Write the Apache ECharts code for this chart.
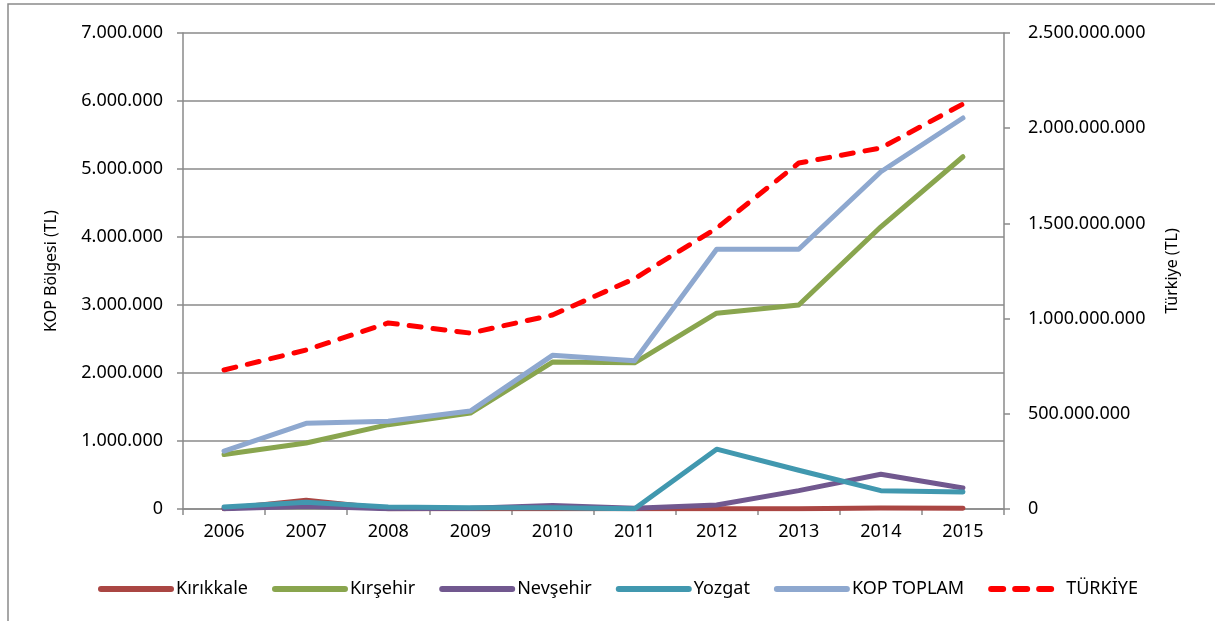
<!DOCTYPE html>
<html>
<head>
<meta charset="utf-8">
<title>KOP Bölgesi - Türkiye</title>
<script src="https://cdn.jsdelivr.net/npm/echarts@6/dist/echarts.min.js"></script>
<style>
    html, body { margin: 0; padding: 0; background: #fff; }
    #chart { width: 1215px; height: 621px; }
</style>
</head>
<body>
<div id="chart"></div>
<script>
// yıllar
var years = ['2006', '2007', '2008', '2009', '2010', '2011', '2012', '2013', '2014', '2015'];

// il değerleri (TL), sol eksen
var kirikkale = [5000, 130000, 5000, 5000, 5000, 5000, 5000, 5000, 15000, 10000];
var kirsehir = [800000, 970000, 1240000, 1410000, 2160000, 2150000, 2880000, 3000000, 4150000, 5180000];
var nevsehir = [5000, 40000, 5000, 10000, 50000, 10000, 60000, 270000, 510000, 310000];
var yozgat = [30000, 100000, 30000, 20000, 20000, 5000, 880000, 570000, 270000, 250000];
var kopToplam = [850000, 1260000, 1290000, 1440000, 2260000, 2180000, 3820000, 3820000, 4960000, 5750000];

// Türkiye (TL), sağ eksen
var turkiye = [730000000, 835000000, 977000000, 924000000, 1019000000, 1210000000, 1475000000, 1817000000, 1896000000, 2127000000];

var FONT = 'Noto Sans';
var GRAY = '#8a8a8a';

function dotted(v) {
    return String(v).replace(/\B(?=(\d{3})+(?!\d))/g, '.');
}

function lineSeries(name, data, color, axis) {
    return {
        name: name,
        type: 'line',
        data: data,
        yAxisIndex: axis || 0,
        symbol: 'none',
        lineStyle: { width: 5, color: color, join: 'round', cap: 'round' },
        itemStyle: { color: color }
    };
}

var chart = echarts.init(document.getElementById('chart'));

var tr = lineSeries('TÜRKİYE', turkiye, '#ff0000', 1);
tr.lineStyle.type = [12, 12];

var option = {
    animation: false,
    textStyle: { fontFamily: FONT, color: '#000' },
    graphic: [
        {
            type: 'polyline',
            silent: true,
            shape: { points: [[8, 621], [8, 4], [1215, 4]] },
            style: { stroke: GRAY, lineWidth: 1.5, fill: null }
        }
    ],
    grid: { left: 183, right: 211, top: 33, bottom: 112 },
    legend: {
        left: 93,
        top: 575,
        itemWidth: 70,
        itemHeight: 8,
        itemGap: 24,
        lineStyle: { width: 6, cap: 'round' },
        itemStyle: { opacity: 0 },
        textStyle: { fontFamily: FONT, fontSize: 18, color: '#000' },
        data: ['Kırıkkale', 'Kırşehir', 'Nevşehir', 'Yozgat', 'KOP TOPLAM', 'TÜRKİYE']
    },
    xAxis: {
        type: 'category',
        data: years,
        boundaryGap: true,
        axisLine: { lineStyle: { color: GRAY, width: 1.5 } },
        axisTick: { show: true, length: 6, lineStyle: { color: GRAY, width: 1.5 } },
        axisLabel: { fontFamily: FONT, fontSize: 18, color: '#000', margin: 14 }
    },
    yAxis: [
        {
            type: 'value',
            min: 0,
            max: 7000000,
            interval: 1000000,
            name: 'KOP Bölgesi (TL)',
            nameLocation: 'middle',
            nameRotate: 90,
            nameGap: 124,
            nameTextStyle: { fontFamily: FONT, fontSize: 16, color: '#000' },
            axisLine: { show: true, lineStyle: { color: GRAY, width: 1.5 } },
            axisTick: { show: true, length: 6, lineStyle: { color: GRAY, width: 1.5 } },
            axisLabel: { fontFamily: FONT, fontSize: 18, color: '#000', margin: 20, formatter: dotted },
            splitLine: { show: true, lineStyle: { color: GRAY, width: 1.5 } }
        },
        {
            type: 'value',
            min: 0,
            max: 2500000000,
            interval: 500000000,
            position: 'right',
            name: 'Türkiye (TL)',
            nameLocation: 'middle',
            nameRotate: 90,
            nameGap: 160,
            nameTextStyle: { fontFamily: FONT, fontSize: 16, color: '#000' },
            axisLine: { show: true, lineStyle: { color: GRAY, width: 1.5 } },
            axisTick: { show: true, length: 6, lineStyle: { color: GRAY, width: 1.5 } },
            axisLabel: { fontFamily: FONT, fontSize: 18, color: '#000', margin: 24, formatter: dotted },
            splitLine: { show: false }
        }
    ],
    series: [
        lineSeries('Kırıkkale', kirikkale, '#aa4643'),
        lineSeries('Kırşehir', kirsehir, '#89a54e'),
        lineSeries('Nevşehir', nevsehir, '#71588f'),
        lineSeries('Yozgat', yozgat, '#4198af'),
        lineSeries('KOP TOPLAM', kopToplam, '#8ea8cf'),
        tr
    ]
};

chart.setOption(option);
</script>
</body>
</html>
